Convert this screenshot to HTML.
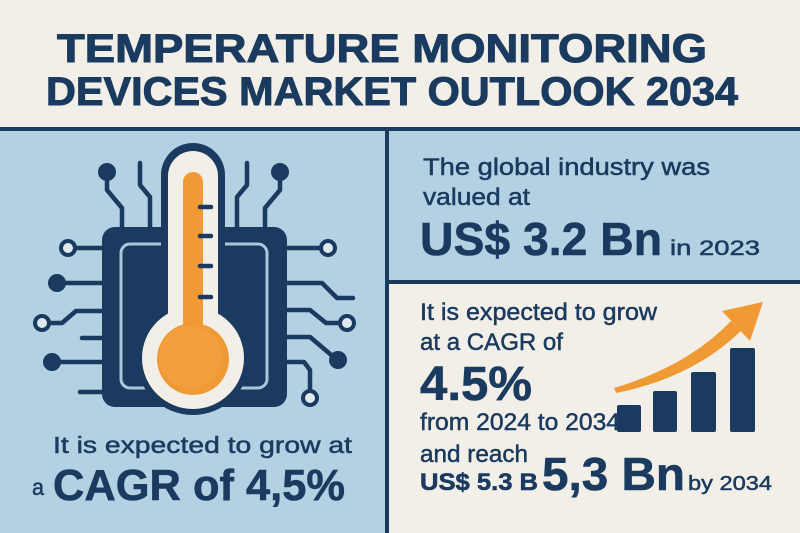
<!DOCTYPE html>
<html><head><meta charset="utf-8"><style>
html,body{margin:0;padding:0;background:#f2efe8;}
svg{display:block;}
text{font-family:"Liberation Sans",sans-serif;fill:#1a3a5f;stroke:#1a3a5f;stroke-width:0.5px;}
.b{font-weight:bold;stroke-width:0.6px;}
.t{font-weight:bold;stroke-width:1px;}
</style></head><body>
<svg width="800" height="533" viewBox="0 0 800 533" xmlns="http://www.w3.org/2000/svg">
<rect x="0" y="0" width="800" height="533" fill="#f2efe8"/>
<!-- panels -->
<rect x="0" y="129" width="387" height="404" fill="#b3d1e2"/>
<rect x="387" y="129" width="413" height="153" fill="#b3d1e2"/>
<rect x="389" y="284" width="411" height="249" fill="#f2efe8"/>
<rect x="0" y="127" width="800" height="4" fill="#1a3a5f"/>
<rect x="385" y="127" width="4" height="406" fill="#1a3a5f"/>
<rect x="385" y="280" width="415" height="4" fill="#1a3a5f"/>

<!-- title -->
<text class="t" x="57" y="62" font-size="40" textLength="650" lengthAdjust="spacingAndGlyphs">TEMPERATURE MONITORING</text>
<text class="t" x="46" y="105" font-size="40" textLength="692" lengthAdjust="spacingAndGlyphs">DEVICES MARKET OUTLOOK 2034</text>

<!-- circuit traces -->
<g stroke="#1a3a5f" stroke-width="4.5" fill="none" stroke-linejoin="round" stroke-linecap="round">
  <polyline points="107,172 107,190 122,208 122,230"/>
  <polyline points="140,163 140,185 150,197 150,230"/>
  <polyline points="247,163 247,185 237,197 237,230"/>
  <polyline points="280,172 280,190 265,208 265,230"/>
  <line x1="76" y1="248" x2="104" y2="248"/>
  <line x1="57" y1="283" x2="104" y2="283"/>
  <polyline points="50,323 62,323 76,311 104,311"/>
  <line x1="82" y1="338" x2="104" y2="338"/>
  <line x1="52" y1="362" x2="104" y2="362"/>
  <line x1="80" y1="392" x2="104" y2="392"/>
  <line x1="285" y1="248" x2="320" y2="248"/>
  <polyline points="285,283 322,283 337,298 353,298"/>
  <polyline points="285,310 310,310 326,323 339,323"/>
  <polyline points="285,337 310,337 336,359"/>
  <polyline points="285,362 304,362 310,370 310,390"/>
</g>
<g fill="#1a3a5f">
  <circle cx="107" cy="172" r="9"/>
  <circle cx="280" cy="172" r="9"/>
  <circle cx="57" cy="283" r="9"/>
  <circle cx="52" cy="362" r="9"/>
  <circle cx="338" cy="360" r="9"/>
</g>
<g fill="#dfe9ee" stroke="#1a3a5f" stroke-width="4">
  <circle cx="68" cy="248" r="7"/>
  <circle cx="42" cy="323" r="7"/>
  <circle cx="328" cy="248" r="7"/>
  <circle cx="347" cy="323" r="7"/>
  <circle cx="310" cy="398" r="7"/>
</g>
<!-- chip -->
<rect x="102" y="227" width="185" height="180" rx="13" fill="#1a3a5f"/>
<rect x="121" y="244" width="146" height="144" rx="9" fill="none" stroke="#a9c8db" stroke-width="3"/>
<!-- thermometer -->
<rect x="161" y="143" width="64" height="200" rx="32" fill="#1a3a5f"/>
<circle cx="193" cy="358" r="57" fill="#1a3a5f"/>
<rect x="168" y="151" width="50" height="200" rx="25" fill="#f2efe8"/>
<circle cx="193" cy="358" r="51" fill="#f2efe8"/>
<rect x="183" y="172" width="20" height="170" rx="10" fill="#f09a35"/>
<circle cx="193" cy="359" r="36" fill="#f09a35"/>
<circle cx="190" cy="357" r="31" fill="#f2a03f"/>
<g stroke="#1a3a5f" stroke-width="4.5" stroke-linecap="round">
  <line x1="200" y1="207" x2="211" y2="207"/>
  <line x1="200" y1="236" x2="211" y2="236"/>
  <line x1="200" y1="266" x2="211" y2="266"/>
  <line x1="200" y1="297" x2="211" y2="297"/>
</g>

<!-- left text -->
<text x="53" y="453" font-size="23" textLength="299" lengthAdjust="spacingAndGlyphs">It is expected to grow at</text>
<text x="32" y="495" font-size="23" textLength="12" lengthAdjust="spacingAndGlyphs">a</text>
<text class="b" x="53" y="500" font-size="44" textLength="292" lengthAdjust="spacingAndGlyphs">CAGR of 4,5%</text>

<!-- right top text -->
<text x="423" y="175" font-size="24" textLength="287" lengthAdjust="spacingAndGlyphs">The global industry was</text>
<text x="423" y="205" font-size="24" textLength="107" lengthAdjust="spacingAndGlyphs">valued at</text>
<text class="b" x="420" y="255" font-size="46" textLength="242" lengthAdjust="spacingAndGlyphs">US$ 3.2 Bn</text>
<text x="670" y="255" font-size="21" textLength="90" lengthAdjust="spacingAndGlyphs">in 2023</text>

<!-- right bottom text -->
<text x="420" y="320" font-size="24" textLength="237" lengthAdjust="spacingAndGlyphs">It is expected to grow</text>
<text x="420" y="350" font-size="24" textLength="143" lengthAdjust="spacingAndGlyphs">at a CAGR of</text>
<text class="b" x="420" y="400" font-size="48" textLength="112" lengthAdjust="spacingAndGlyphs">4.5%</text>
<text x="420" y="430" font-size="24" textLength="200" lengthAdjust="spacingAndGlyphs">from 2024 to 2034</text>
<text x="420" y="462" font-size="24" textLength="108" lengthAdjust="spacingAndGlyphs">and reach</text>
<text class="b" x="420" y="490" font-size="24" textLength="118" lengthAdjust="spacingAndGlyphs">US$ 5.3 B</text>
<text class="b" x="542" y="490" font-size="46" textLength="143" lengthAdjust="spacingAndGlyphs">5,3 Bn</text>
<text x="688" y="490" font-size="20" textLength="84" lengthAdjust="spacingAndGlyphs">by 2034</text>

<!-- bars -->
<g fill="#1a3a5f">
  <rect x="617" y="405" width="24" height="27" rx="2"/>
  <rect x="653" y="391" width="24" height="41" rx="2"/>
  <rect x="691" y="372" width="25" height="60" rx="2"/>
  <rect x="730" y="348" width="25" height="84" rx="2"/>
</g>
<!-- arrow -->
<path d="M614,388 Q688,366 731,321 L741,331 Q692,378 616,393 Z" fill="#f09a35"/>
<polygon points="763,302 722,311 750,341" fill="#f09a35"/>
</svg>
</body></html>
